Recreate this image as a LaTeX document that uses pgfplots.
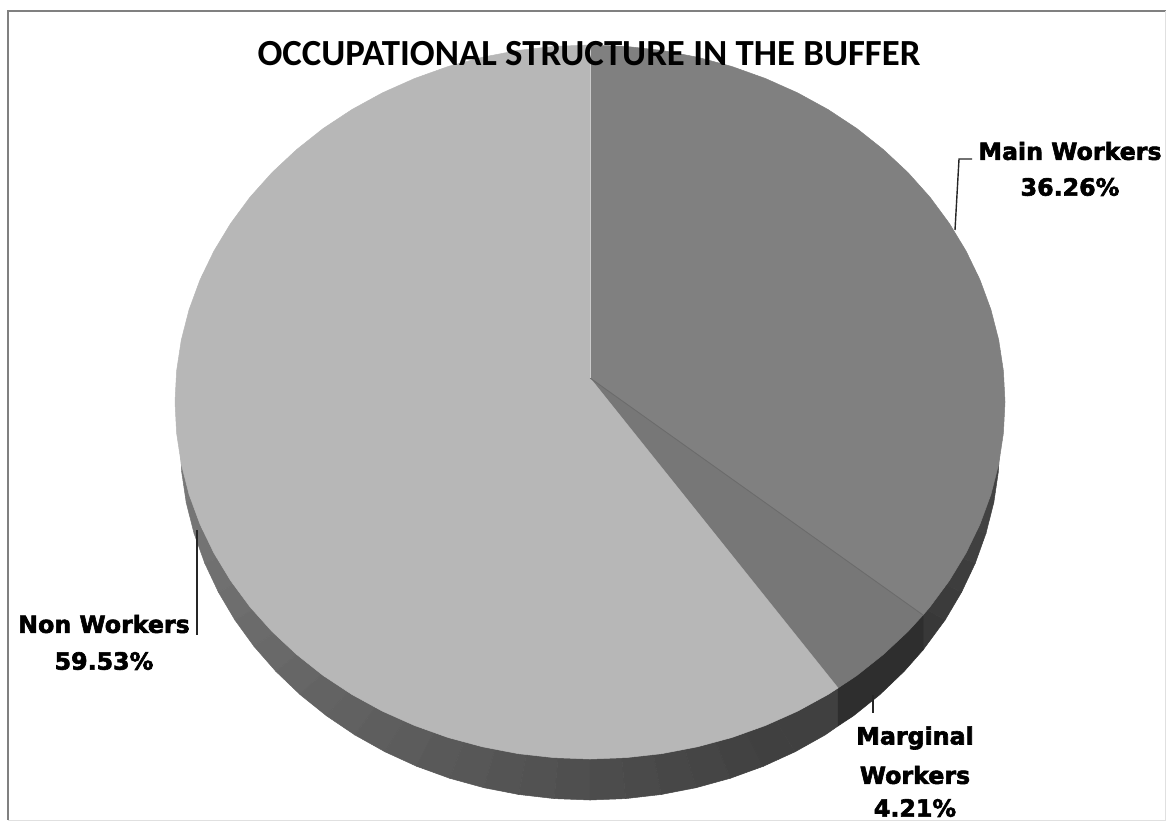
\documentclass[border=0pt]{standalone}
\usepackage{fontspec}
\setmainfont{Carlito}
\newfontfamily\lab{DejaVu Sans Bold}[FakeBold=2.5]
\usepackage{pgfplots}
\pgfplotsset{compat=1.18}
\definecolor{main}{HTML}{808080}
\definecolor{marg}{HTML}{777777}
\definecolor{nonw}{HTML}{B7B7B7}
\pgfplotsset{poly/.style={draw=#1,fill=#1,line width=0.5pt,forget plot}}
\newcommand{\lb}{\lab\fontsize{23.7}{26}\selectfont}
\begin{document}
\begin{tikzpicture}
\useasboundingbox (0pt,0pt) rectangle (1169pt,822pt);
\begin{axis}[
  scale only axis, width=1169pt, height=822pt,
  xmin=0, xmax=1169, ymin=0, ymax=822, y dir=reverse,
  hide axis, clip=true, anchor=south west, at={(0pt,0pt)},
  every axis plot/.append style={mark=none}
]
% frame
\addplot[color=black!50, line width=2pt, forget plot] coordinates {(8,820) (8,11) (1166,11)};
\addplot[color=black!12, line width=1pt, forget plot] coordinates {(8,820) (1165,820) (1165,11)};
% side wall (Non Workers), left to right
\addplot[poly=black!52] coordinates {(590,420) (180,440) (181.6,471.4)} -- cycle;
\addplot[poly=black!53] coordinates {(590,420) (181.6,471.4) (186.2,502.5)} -- cycle;
\addplot[poly=black!54] coordinates {(590,420) (186.2,502.5) (194,533.2)} -- cycle;
\addplot[poly=black!55] coordinates {(590,420) (194,533.2) (204.7,563.1)} -- cycle;
\addplot[poly=black!56] coordinates {(590,420) (204.7,563.1) (218.4,592.1)} -- cycle;
\addplot[poly=black!57] coordinates {(590,420) (218.4,592.1) (234.9,620)} -- cycle;
\addplot[poly=black!58] coordinates {(590,420) (234.9,620) (254.1,646.5)} -- cycle;
\addplot[poly=black!59] coordinates {(590,420) (254.1,646.5) (275.9,671.4)} -- cycle;
\addplot[poly=black!60] coordinates {(590,420) (275.9,671.4) (300.1,694.6)} -- cycle;
\addplot[poly=black!61] coordinates {(590,420) (300.1,694.6) (326.5,715.8)} -- cycle;
\addplot[poly=black!62] coordinates {(590,420) (326.5,715.8) (354.8,734.9)} -- cycle;
\addplot[poly=black!63] coordinates {(590,420) (354.8,734.9) (385,751.8)} -- cycle;
\addplot[poly=black!64] coordinates {(590,420) (385,751.8) (416.7,766.3)} -- cycle;
\addplot[poly=black!65] coordinates {(590,420) (416.7,766.3) (449.8,778.3)} -- cycle;
\addplot[poly=black!66] coordinates {(590,420) (449.8,778.3) (483.9,787.7)} -- cycle;
\addplot[poly=black!67] coordinates {(590,420) (483.9,787.7) (518.8,794.5)} -- cycle;
\addplot[poly=black!68] coordinates {(590,420) (518.8,794.5) (554.3,798.6)} -- cycle;
\addplot[poly=black!69] coordinates {(590,420) (554.3,798.6) (590,800)} -- cycle;
\addplot[poly=black!70] coordinates {(590,420) (590,800) (625.7,798.6)} -- cycle;
\addplot[poly=black!71] coordinates {(590,420) (625.7,798.6) (661.2,794.5)} -- cycle;
\addplot[poly=black!72] coordinates {(590,420) (661.2,794.5) (696.1,787.7)} -- cycle;
\addplot[poly=black!73] coordinates {(590,420) (696.1,787.7) (730.2,778.3)} -- cycle;
\addplot[poly=black!74] coordinates {(590,420) (730.2,778.3) (763.3,766.3)} -- cycle;
\addplot[poly=black!75] coordinates {(590,420) (763.3,766.3) (795,751.8)} -- cycle;
\addplot[poly=black!75] coordinates {(590,420) (795,751.8) (825.2,734.9) (838,726) (838,660)} -- cycle;
% side wall (Main Workers)
\addplot[poly=black!78] coordinates {(590,420) (923,650) (945.1,620)} -- cycle;
\addplot[poly=black!77] coordinates {(590,420) (945.1,620) (961.6,592.1)} -- cycle;
\addplot[poly=black!76] coordinates {(590,420) (961.6,592.1) (975.3,563.1)} -- cycle;
\addplot[poly=black!75] coordinates {(590,420) (975.3,563.1) (986,533.2)} -- cycle;
\addplot[poly=black!74] coordinates {(590,420) (986,533.2) (993.8,502.5) (998.4,471.4) (1000,440)} -- cycle;
% side wall (Marginal Workers)
\addplot[poly=black!82] coordinates {(838,660) (838,726) (853.5,715.8) (879.9,694.6) (904.1,671.4) (923,650) (923,600)} -- cycle;
% top face: Main Workers 36.26%
\addplot[poly=main] coordinates {(590,378) (590,45) (626,46.4) (662,50.4) (697.4,57.2) (731.9,66.5) (765.4,78.5) (797.5,92.8) (828,109.5) (856.8,128.5) (883.4,149.6) (907.9,172.5) (930,197.2) (949.4,223.5) (966.1,251.1) (980,279.9) (990.9,309.6) (998.7,340) (1003.4,370.9) (1005,402) (1003.4,433.1) (998.7,464) (990.9,494.4) (980,524.1) (966.1,552.9) (949.4,580.5) (930,606.8) (923,615)} -- cycle;
% top face: Marginal Workers 4.21%
\addplot[poly=marg] coordinates {(590,378) (923,615) (907.9,631.5) (883.4,654.4) (856.8,675.5) (838,688)} -- cycle;
% top face: Non Workers 59.53%
\addplot[poly=nonw] coordinates {(590,378) (838,688) (828,694.5) (797.5,711.2) (765.4,725.5) (731.9,737.5) (697.4,746.8) (662,753.6) (626,757.6) (590,759) (553.8,757.6) (518,753.6) (482.6,746.8) (448.1,737.5) (414.6,725.5) (382.5,711.2) (352,694.5) (323.2,675.5) (296.6,654.4) (272.1,631.5) (250,606.8) (230.6,580.5) (213.9,552.9) (200,524.1) (189.1,494.4) (181.3,464) (176.6,433.1) (175,402) (176.6,370.9) (181.3,340) (189.1,309.6) (200,279.9) (213.9,251.1) (230.6,223.5) (250,197.2) (272.1,172.5) (296.6,149.6) (323.2,128.5) (352,109.5) (382.5,92.8) (414.6,78.5) (448.1,66.5) (482.6,57.2) (518,50.4) (553.8,46.4) (590,45)} -- cycle;
% slice edges
\addplot[color=black!58, line width=0.8pt, forget plot] coordinates {(590,378) (923,615)};
\addplot[color=black!20, line width=0.8pt, forget plot] coordinates {(590,378) (590,45)};
% leaders
\addplot[color=black!85, line width=1.4pt, forget plot] coordinates {(955,230) (959,159) (972,159)};
\addplot[color=black!85, line width=1.4pt, forget plot] coordinates {(197,530) (197,635)};
\addplot[color=black!85, line width=1.4pt, forget plot] coordinates {(873,695) (873,713)};
% texts
\node[font=\fontsize{36.8}{40}\selectfont\bfseries] at (axis cs:589,54) {OCCUPATIONAL STRUCTURE IN THE BUFFER};
\node[font=\lb] at (axis cs:1070,151) {Main Workers};
\node[font=\lb] at (axis cs:1070,187) {36.26\%};
\node[font=\lb] at (axis cs:104,624) {Non Workers};
\node[font=\lb] at (axis cs:104,661) {59.53\%};
\node[font=\lb] at (axis cs:915,738) {Marginal};
\node[font=\lb] at (axis cs:915,775) {Workers};
\node[font=\lb] at (axis cs:915,808) {4.21\%};
\end{axis}
\end{tikzpicture}
\end{document}
